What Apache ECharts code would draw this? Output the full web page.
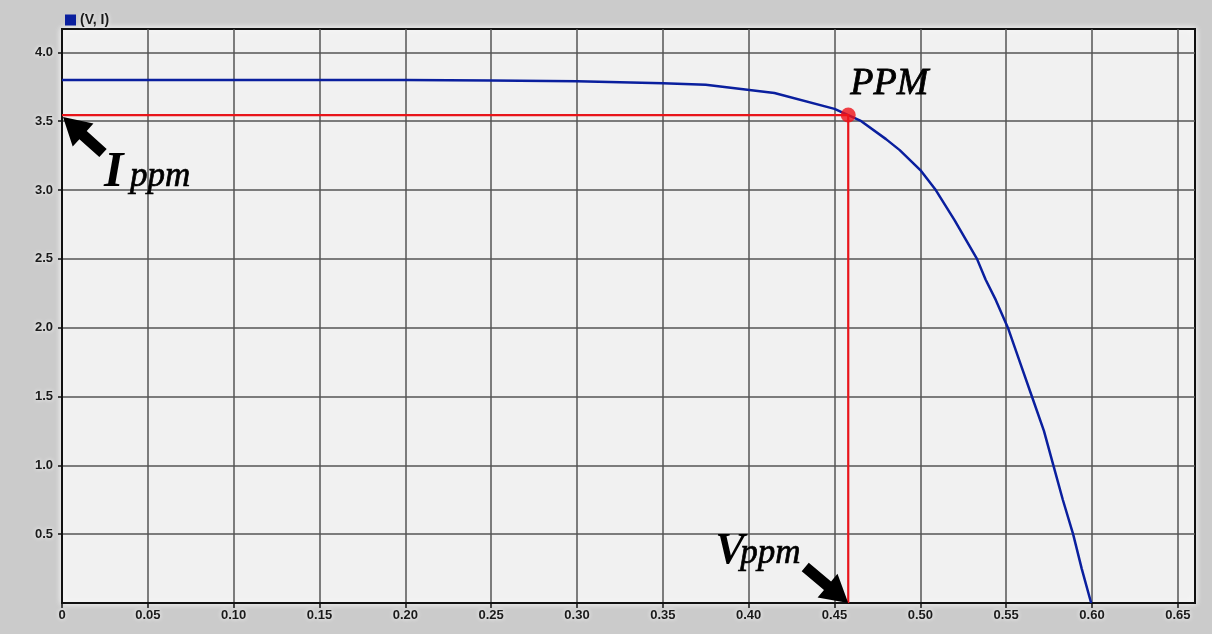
<!DOCTYPE html>
<html>
<head>
<meta charset="utf-8">
<script src="https://cdn.jsdelivr.net/npm/echarts@6/dist/echarts.min.js"></script>
<style>
  html, body { margin: 0; padding: 0; background: #cbcbcb; }
  #chart { width: 1212px; height: 634px; }
</style>
</head>
<body>
<div id="chart"></div>
<script>
// I-V curve of a solar cell: voltage (V) and current (A)
const voltage = [0, 0.05, 0.10, 0.15, 0.20, 0.25, 0.30, 0.35, 0.375, 0.415, 0.45, 0.458, 0.465, 0.48, 0.488, 0.50, 0.509, 0.52, 0.533, 0.538, 0.544, 0.551, 0.558, 0.565, 0.572, 0.5775, 0.583, 0.589, 0.594, 0.5995];
const current = [3.80, 3.80, 3.80, 3.80, 3.80, 3.795, 3.79, 3.775, 3.765, 3.705, 3.59, 3.545, 3.505, 3.37, 3.29, 3.145, 3.0, 2.78, 2.5, 2.35, 2.2, 2.0, 1.75, 1.5, 1.25, 1.0, 0.75, 0.5, 0.25, 0];

// Maximum power point
const Vppm = 0.458;
const Ippm = 3.545;

// Tick labels
const xTicks = [0, 0.05, 0.10, 0.15, 0.20, 0.25, 0.30, 0.35, 0.40, 0.45, 0.50, 0.55, 0.60, 0.65];
const yTicks = [0.5, 1.0, 1.5, 2.0, 2.5, 3.0, 3.5, 4.0];

const seriesName = '(V, I)';

const curve = voltage.map((v, i) => [v, current[i]]);
const ppmGuide = [[0, Ippm], [Vppm, Ippm], [Vppm, 0]];

const labelStyle = {
  color: '#1a1a1a',
  fontFamily: '"Liberation Sans", Arial, sans-serif',
  fontWeight: 'bold',
  fontSize: 13,
  textShadowColor: '#ffffff',
  textShadowBlur: 4
};

const chart = echarts.init(document.getElementById('chart'), null, { renderer: 'canvas' });

const option = {
  backgroundColor: '#cbcbcb',
  animation: false,
  legend: {
    data: [seriesName],
    left: 60,
    top: 8,
    icon: 'rect',
    itemWidth: 11,
    itemHeight: 11,
    itemGap: 4,
    textStyle: Object.assign({}, labelStyle, { fontSize: 14, padding: [0, 0, 0, -1] })
  },
  grid: {
    left: 62,
    right: 17,
    top: 29,
    bottom: 31,
    show: true,
    backgroundColor: '#f1f1f1',
    borderColor: '#111',
    borderWidth: 2,
    shadowColor: 'rgba(255,255,255,0.9)',
    shadowBlur: 6
  },
  xAxis: {
    type: 'value',
    min: 0,
    max: 0.66,
    interval: 0.05,
    axisLine: { show: true, onZero: false, lineStyle: { color: '#111', width: 2 } },
    axisTick: { show: true, length: 5, customValues: xTicks, lineStyle: { color: '#111', width: 1.5 } },
    axisLabel: Object.assign({}, labelStyle, {
      margin: 6,
      customValues: xTicks,
      formatter: v => (v === 0 ? '0' : v.toFixed(2))
    }),
    splitLine: { show: true, lineStyle: { color: '#555', width: 1.5 } }
  },
  yAxis: {
    type: 'value',
    min: 0,
    max: 4.17,
    interval: 0.5,
    axisLine: { show: true, onZero: false, lineStyle: { color: '#111', width: 2 } },
    axisTick: { show: true, length: 4, customValues: yTicks, lineStyle: { color: '#111', width: 1.5 } },
    axisLabel: Object.assign({}, labelStyle, {
      margin: 9,
      customValues: yTicks,
      formatter: v => v.toFixed(1)
    }),
    splitLine: { show: true, lineStyle: { color: '#555', width: 1.5 } }
  },
  series: [
    {
      name: seriesName,
      type: 'line',
      data: curve,
      showSymbol: false,
      symbol: 'none',
      itemStyle: { color: '#0a1f9e' },
      lineStyle: { color: '#0a1f9e', width: 2.5 },
      z: 3
    },
    {
      name: 'guide',
      type: 'line',
      data: ppmGuide,
      showSymbol: false,
      symbol: 'none',
      lineStyle: { color: '#e8141a', width: 2.2 },
      z: 4
    },
    {
      name: 'PPM',
      type: 'scatter',
      data: [[Vppm, Ippm]],
      symbolSize: 15,
      itemStyle: { color: '#ef1219' },
      z: 5
    }
  ]
};

chart.setOption(option);

// Annotation arrows and labels, placed from the data coordinates
function arrow(tip, tail, headLen, headW, shaftW) {
  const dx = tail[0] - tip[0], dy = tail[1] - tip[1];
  const len = Math.hypot(dx, dy);
  const ux = dx / len, uy = dy / len;
  const nx = -uy, ny = ux;
  const bx = tip[0] + ux * headLen, by = tip[1] + uy * headLen;
  return {
    type: 'polygon',
    silent: true,
    z: 100,
    shape: {
      points: [
        tip,
        [bx + nx * headW / 2, by + ny * headW / 2],
        [bx + nx * shaftW / 2, by + ny * shaftW / 2],
        [tail[0] + nx * shaftW / 2, tail[1] + ny * shaftW / 2],
        [tail[0] - nx * shaftW / 2, tail[1] - ny * shaftW / 2],
        [bx - nx * shaftW / 2, by - ny * shaftW / 2],
        [bx - nx * headW / 2, by - ny * headW / 2]
      ]
    },
    style: { fill: '#000' }
  };
}

function label(text, x, baseline, size, weight, stroke) {
  return {
    type: 'text',
    silent: true,
    z: 100,
    x: x,
    y: baseline - size * 0.34,
    style: {
      text: text,
      font: 'italic ' + weight + ' ' + size + 'px "Liberation Serif", "DejaVu Serif", serif',
      fill: '#000',
      stroke: stroke ? '#000' : null,
      lineWidth: stroke || 0,
      align: 'left',
      verticalAlign: 'middle'
    }
  };
}

const pI = chart.convertToPixel({ gridIndex: 0 }, [0, Ippm]);
const pV = chart.convertToPixel({ gridIndex: 0 }, [Vppm, 0]);
const pP = chart.convertToPixel({ gridIndex: 0 }, [Vppm, Ippm]);

chart.setOption({
  graphic: [
    arrow([pI[0] + 1, pI[1] + 2], [pI[0] + 41, pI[1] + 38], 27, 31, 11),
    arrow([pV[0], pV[1]], [pV[0] - 43, pV[1] - 36], 27, 31, 11),
    label('I', pI[0] + 42, pI[1] + 75, 50, 'bold'),
    label('ppm', pI[0] + 68, pI[1] + 74, 35, 'normal', 0.7),
    label('V', pV[0] - 133, pV[1] - 36, 44, 'bold'),
    label('ppm', pV[0] - 108, pV[1] - 37, 35, 'normal', 0.7),
    label('PPM', pP[0] + 2, pP[1] - 18, 38, 'normal', 0.8)
  ]
});
</script>
</body>
</html>
